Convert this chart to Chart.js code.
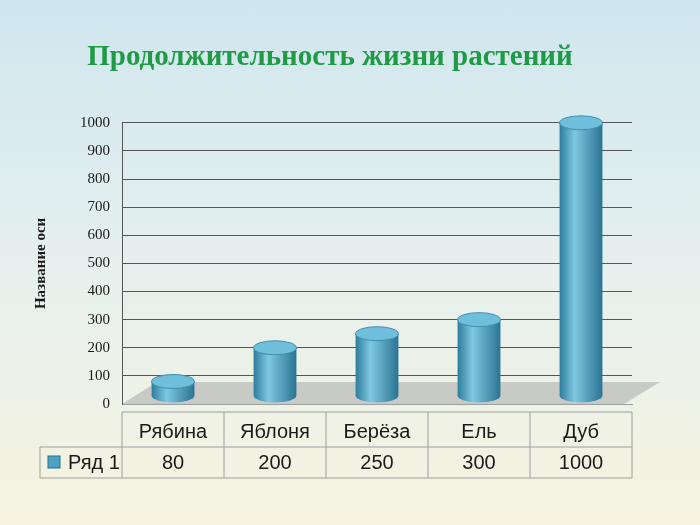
<!DOCTYPE html>
<html><head><meta charset="utf-8">
<script src="https://cdn.jsdelivr.net/npm/chart.js@4"></script>
<style>
html,body{margin:0;padding:0;}
body{width:700px;height:525px;background:linear-gradient(#cfe6ee 0%,#e6f0ee 50%,#f6f3df 100%);}
</style></head><body><canvas id="c" width="700" height="525"></canvas>
<script>
const categories=["Рябина","Яблоня","Берёза","Ель","Дуб"];
const values=[80,200,250,300,1000];
const seriesName="Ряд 1";
const yTicks=[0,100,200,300,400,500,600,700,800,900,1000];

const extras={id:'extras',
 beforeDatasetsDraw(ch){
  const ctx=ch.ctx, ys=ch.scales.y, xs=ch.scales.x;
  ctx.save();
  ctx.fillStyle='rgba(170,170,170,0.55)';
  ctx.beginPath();ctx.moveTo(xs.left,ys.bottom);ctx.lineTo(xs.right-8,ys.bottom);ctx.lineTo(xs.right+28,ys.bottom-22);ctx.lineTo(xs.left+35,ys.bottom-22);ctx.closePath();ctx.fill();
  ctx.restore();
 },
 afterDatasetsDraw(ch){
  const ctx=ch.ctx, meta=ch.getDatasetMeta(0), xs=ch.scales.x;
  meta.data.forEach(b=>{
    const w=b.width, cx=b.x, top=b.y, base=b.base-8;
    ctx.save();
    const g=ctx.createLinearGradient(cx-w/2,0,cx+w/2,0);
    g.addColorStop(0,'#2e7d9c');g.addColorStop(0.35,'#7fc8e2');g.addColorStop(1,'#2a7393');
    ctx.fillStyle=g;
    ctx.beginPath();ctx.moveTo(cx-w/2,top);ctx.lineTo(cx-w/2,base);
    ctx.ellipse(cx,base,w/2,7,0,Math.PI,0,true);ctx.lineTo(cx+w/2,top);ctx.closePath();ctx.fill();
    ctx.fillStyle='#6fbfdc';ctx.strokeStyle='#3f8fae';ctx.lineWidth=1;
    ctx.beginPath();ctx.ellipse(cx,top,w/2,7,0,0,Math.PI*2);ctx.fill();ctx.stroke();
    ctx.restore();
  });
  const left=40, right=632, top=412, mid=447, bot=478;
  ctx.save();ctx.strokeStyle='#9aa0a0';ctx.lineWidth=1;
  ctx.beginPath();
  ctx.moveTo(xs.left,top);ctx.lineTo(right,top);
  ctx.moveTo(left,mid);ctx.lineTo(right,mid);
  ctx.moveTo(left,bot);ctx.lineTo(right,bot);
  ctx.moveTo(left,mid);ctx.lineTo(left,bot);
  const step=(xs.right-xs.left)/categories.length;
  for(let i=0;i<=categories.length;i++){const x=xs.left+i*step;ctx.moveTo(x,top);ctx.lineTo(x,bot);}
  ctx.stroke();
  ctx.fillStyle='#1a1a1a';ctx.font='20px "Liberation Sans", Arial';ctx.textAlign='center';ctx.textBaseline='middle';
  categories.forEach((c,i)=>{const x=xs.getPixelForValue(i);ctx.fillText(c,x,top+20);ctx.fillText(String(values[i]),x,mid+16);});
  ctx.fillStyle='#4aa3c4';ctx.fillRect(48,456,12,12);ctx.strokeStyle='#2a6f8c';ctx.strokeRect(48,456,12,12);
  ctx.fillStyle='#1a1a1a';ctx.textAlign='left';ctx.fillText(seriesName,68,mid+16);
  ctx.restore();
 }};

new Chart(document.getElementById('c'),{
 type:'bar',
 data:{labels:categories,datasets:[{label:seriesName,data:values,backgroundColor:'rgba(0,0,0,0)',
  barPercentage:0.42,categoryPercentage:1}]},
 options:{responsive:false,animation:false,
  layout:{padding:{left:28,right:68,top:0,bottom:113}},
  plugins:{legend:{display:false},tooltip:{enabled:false},
   title:{display:true,text:'Продолжительность жизни растений',color:'#1f9a45',font:{family:'"Liberation Serif", serif',size:29,weight:'bold'},padding:{top:40,bottom:48}}},
  scales:{
   x:{ticks:{display:false},grid:{display:false},border:{color:'#9aa0a0'}},
   y:{min:0,max:1000,afterBuildTicks:(s)=>{s.ticks=yTicks.map(v=>({value:v}));},
    ticks:{color:'#1a1a1a',font:{family:'"Liberation Serif", serif',size:15},padding:12,callback:(v)=>String(v)},
    grid:{color:'#555',drawTicks:false},border:{color:'#555'},
    title:{display:true,text:'Название оси',color:'#1a1a1a',font:{family:'"Liberation Serif", serif',size:15,weight:'bold'},padding:{bottom:18}}}
  }},
 plugins:[extras]});
</script></body></html>
